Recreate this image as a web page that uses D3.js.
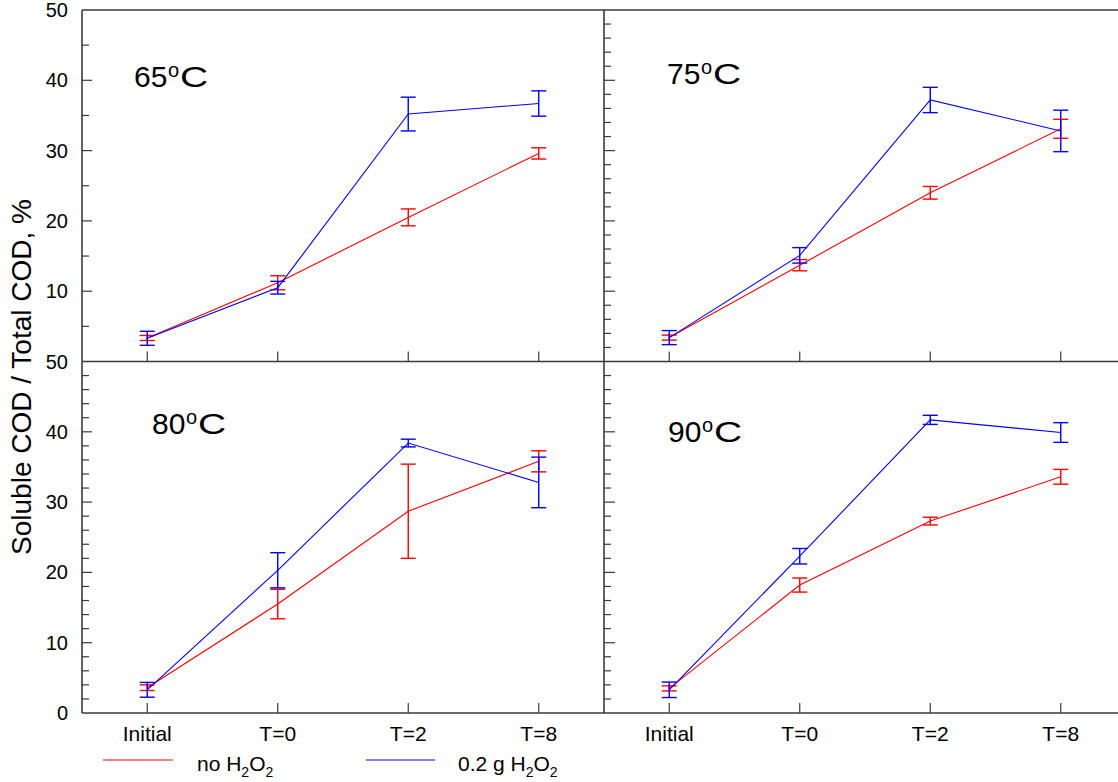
<!DOCTYPE html>
<html><head><meta charset="utf-8">
<script src="https://cdn.jsdelivr.net/npm/d3@7"></script>
<style>
body{margin:0;background:#fff;}
svg{display:block;font-family:Arial,"Liberation Sans",sans-serif;}
</style></head><body>
<svg id="c" width="1118" height="782"></svg>
<script>
const categories = ["Initial","T=0","T=2","T=8"];
const panelTemps = ["65","75","80","90"];
const redVals = [
  [3.35, 11.2, 20.5, 29.6],
  [3.4, 13.7, 24.0, 33.1],
  [3.6, 15.5, 28.7, 35.8],
  [3.5, 18.2, 27.3, 33.6]
];
const redErr = [
  [0.36, 1.0, 1.2, 0.8],
  [0.36, 0.8, 0.9, 1.35],
  [0.4, 2.1, 6.7, 1.5],
  [0.36, 1.0, 0.55, 1.05]
];
const blueVals = [
  [3.3, 10.5, 35.2, 36.7],
  [3.4, 15.1, 37.2, 32.8],
  [3.3, 20.3, 38.4, 32.8],
  [3.3, 22.3, 41.7, 39.9]
];
const blueErr = [
  [1.0, 0.9, 2.4, 1.8],
  [1.0, 1.1, 1.8, 2.95],
  [1.05, 2.5, 0.55, 3.6],
  [1.1, 1.1, 0.65, 1.4]
];
const yTickLabels = [0,10,20,30,40,50];
const legendLabels = ["no H","0.2 g H"];

const svg = d3.select("#c");
const W = 522, H = 351.5;
const panels = [
  {x0:82, y0:10, minorStep:5, left:true, top:true},
  {x0:604, y0:10, minorStep:2, left:false, top:true},
  {x0:82, y0:361.5, minorStep:2, left:true, top:false},
  {x0:604, y0:361.5, minorStep:2, left:false, top:false}
];
const labelPos = [[134,87],[667,84],[152,434],[668,442]];
const axisCol = "#3a3a3a";

const x = d3.scalePoint().domain(categories).range([0, W]).padding(0.5);
const y = d3.scaleLinear().domain([0, 50]).range([H, 0]);

panels.forEach((p, i) => {
  const g = svg.append("g").attr("transform", `translate(${p.x0},${p.y0})`);
  if (p.top) g.append("line").attr("x1",0).attr("x2",W).attr("y1",0).attr("y2",0)
    .attr("stroke","#6a6a6a").attr("stroke-width",2);
  g.append("line").attr("x1",0).attr("x2",0).attr("y1",0).attr("y2",H)
    .attr("stroke",axisCol).attr("stroke-width",1.6);
  g.append("line").attr("x1",0).attr("x2",W).attr("y1",H).attr("y2",H)
    .attr("stroke",axisCol).attr("stroke-width",1.6);
  const minors = d3.range(0, 50.01, p.minorStep).filter(v => v % 10 !== 0);
  const majors = d3.range(10, 50, 10);
  g.selectAll(".mn").data(minors).join("line")
    .attr("x1",0).attr("x2",7).attr("y1",d=>y(d)).attr("y2",d=>y(d))
    .attr("stroke",axisCol).attr("stroke-width",1.2);
  g.selectAll(".mj").data(majors).join("line")
    .attr("x1",0).attr("x2",p.left?10:11).attr("y1",d=>y(d)).attr("y2",d=>y(d))
    .attr("stroke",axisCol).attr("stroke-width",1.2);
  if (p.left) {
    const labs = p.top ? yTickLabels.filter(v => v !== 0) : yTickLabels;
    g.selectAll(".yl").data(labs).join("text")
      .attr("x",-14).attr("y",d=>y(d)+7).attr("text-anchor","end")
      .attr("font-size",20).attr("fill","#000").text(d=>d);
  }
  g.selectAll(".xt").data(categories).join("line")
    .attr("x1",d=>x(d)).attr("x2",d=>x(d)).attr("y1",H).attr("y2",H-10)
    .attr("stroke",axisCol).attr("stroke-width",1.2);
  if (!p.top) {
    g.selectAll(".xl").data(categories).join("text")
      .attr("x",d=>x(d)).attr("y",H+28).attr("text-anchor","middle")
      .attr("font-size",21).attr("fill","#000").text(d=>d);
  }
  const series = [
    {v:redVals[i], e:redErr[i], c:"#ff0000"},
    {v:blueVals[i], e:blueErr[i], c:"#0000ff"}
  ];
  series.forEach(s => {
    const line = d3.line().x((d,j)=>x(categories[j])).y(d=>y(d));
    g.append("path").attr("d", line(s.v)).attr("fill","none")
      .attr("stroke", s.c).attr("stroke-width",1.1);
    s.v.forEach((v,j) => {
      const cx = x(categories[j]);
      const eg = g.append("g").attr("stroke", s.c).attr("stroke-width",1.4);
      eg.append("line").attr("x1",cx).attr("x2",cx).attr("y1",y(v+s.e[j])).attr("y2",y(v-s.e[j]));
      [v+s.e[j], v-s.e[j]].forEach(t => {
        eg.append("line").attr("x1",cx-7.5).attr("x2",cx+7.5).attr("y1",y(t)).attr("y2",y(t));
      });
    });
  });
  const lx = labelPos[i][0], ly = labelPos[i][1];
  svg.append("text").attr("x",lx).attr("y",ly).attr("font-size",30).attr("fill","#000")
    .text(panelTemps[i]);
  svg.append("text").attr("x",lx+34).attr("y",ly-10).attr("font-size",20).attr("fill","#000")
    .text("o");
  svg.append("text").attr("transform",`translate(${lx+46},${ly}) scale(1.3,1)`)
    .attr("font-size",30).attr("fill","#000").text("C");
});

svg.append("text").attr("transform","translate(31,377) rotate(-90)")
  .attr("text-anchor","middle").attr("font-size",28).attr("fill","#000")
  .text("Soluble COD / Total COD, %");

const legend = [
  {x1:103, x2:173, tx:197, c:"#ff0000", label:legendLabels[0]},
  {x1:366, x2:435, tx:458, c:"#0000ff", label:legendLabels[1]}
];
legend.forEach(l => {
  svg.append("line").attr("x1",l.x1).attr("x2",l.x2).attr("y1",760).attr("y2",760)
    .attr("stroke",l.c).attr("stroke-width",1.2);
  const t = svg.append("text").attr("x",l.tx).attr("y",771).attr("font-size",21).attr("fill","#000");
  t.append("tspan").text(l.label);
  t.append("tspan").attr("font-size",14).attr("dy",6).text("2");
  t.append("tspan").attr("dy",-6).text("O");
  t.append("tspan").attr("font-size",14).attr("dy",6).text("2");
});
</script>
</body></html>
